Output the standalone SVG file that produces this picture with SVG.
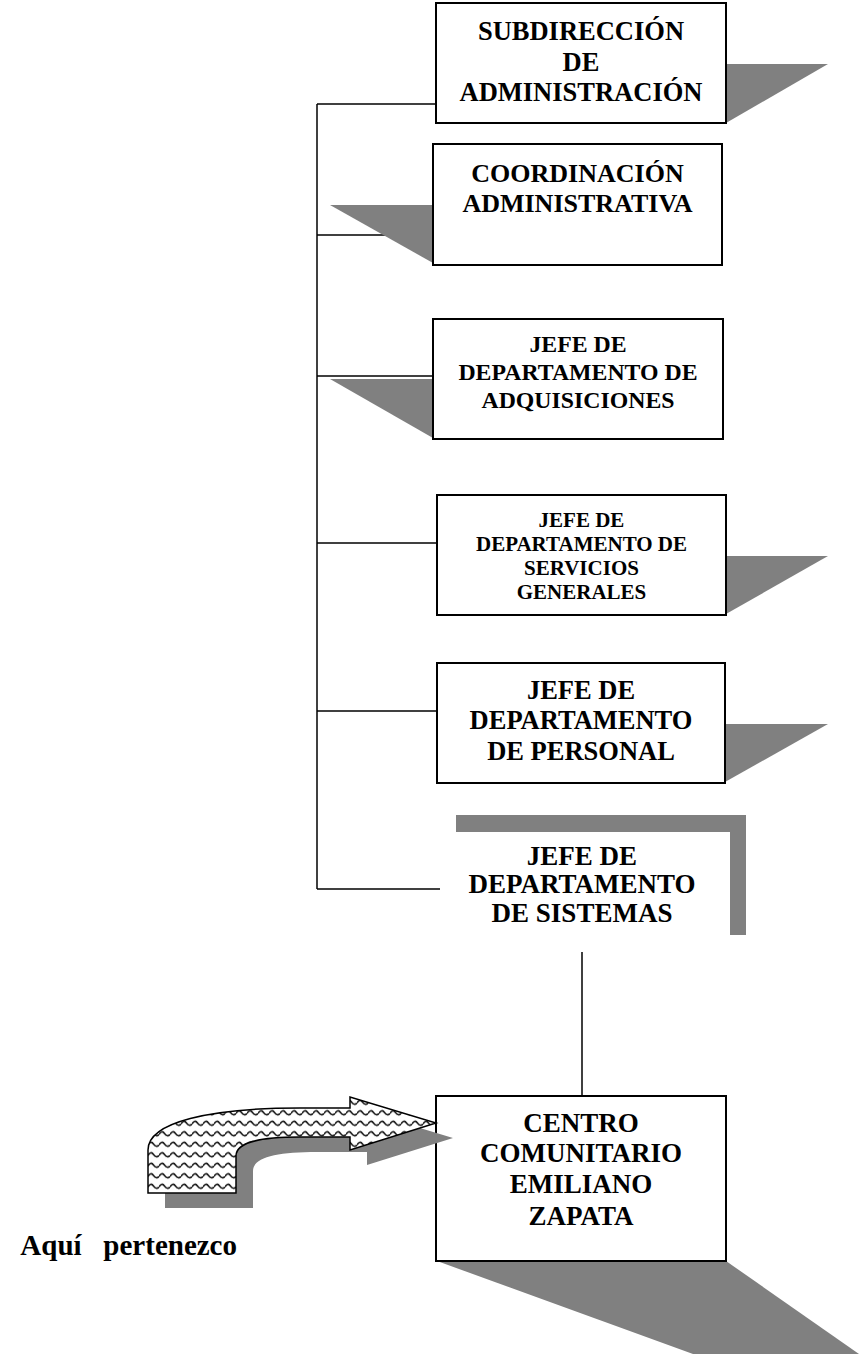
<svg xmlns="http://www.w3.org/2000/svg" width="859" height="1359" viewBox="0 0 859 1359">
<style>
.box{fill:#fff;stroke:#000;stroke-width:2}
.sh{fill:#808080}
.t{font-family:"Liberation Serif","Times New Roman",serif;font-weight:bold;text-anchor:middle;fill:#000}
.ln{stroke:#000;stroke-width:1.5;fill:none}
</style>
<defs>
<pattern id="dots" patternUnits="userSpaceOnUse" x="436" y="1096" width="20" height="20.6">
<rect width="20" height="20.6" fill="#fff"/>
<circle cx="11" cy="10" r="1.3" fill="#444"/>
<circle cx="1" cy="20.3" r="1.3" fill="#444"/>
</pattern>
<pattern id="wave" patternUnits="userSpaceOnUse" x="148" y="1097" width="11" height="10.5">
<rect width="11" height="10.5" fill="#fff"/>
<path d="M0,6 Q2.75,1 5.5,5 Q8.25,9 11,6" fill="none" stroke="#111" stroke-width="1.5"/>
</pattern>
<path id="arrowShape" d="M148,1193 L148,1150 C148,1122 210,1108 300,1108 L350,1108 L350,1097 L436,1123 L350,1150 L350,1137 L300,1137 C260,1137 236,1142 236,1156 L236,1193 Z"/>
</defs>
<rect width="859" height="1359" fill="#fff"/>
<g id="connectors">
<line class="ln" x1="317" y1="104" x2="317" y2="889"/>
<line class="ln" x1="317" y1="104" x2="436" y2="104"/>
<line class="ln" x1="317" y1="235" x2="433" y2="235"/>
<line class="ln" x1="317" y1="376" x2="437" y2="376"/>
<line class="ln" x1="317" y1="543" x2="437" y2="543"/>
<line class="ln" x1="317" y1="711" x2="437" y2="711"/>
<line class="ln" x1="317" y1="889" x2="440" y2="889"/>
<line class="ln" x1="582" y1="952" x2="582" y2="1096"/>
</g>
<g id="subdireccion">
<polygon class="sh" points="726,64 828,64 726,123"/>
<rect class="box" x="436" y="3" width="290" height="120"/>
<text class="t" font-size="26.5"><tspan x="581" y="40">SUBDIRECCIÓN</tspan><tspan x="581" y="70.5">DE</tspan><tspan x="581" y="101">ADMINISTRACIÓN</tspan></text>
</g>
<g id="coordinacion">
<polygon class="sh" points="330,205 433,205 433,263"/>
<rect class="box" x="433" y="144" width="289" height="121"/>
<text class="t" font-size="26"><tspan x="577.5" y="182">COORDINACIÓN</tspan><tspan x="577.5" y="212">ADMINISTRATIVA</tspan></text>
</g>
<g id="adquisiciones">
<polygon class="sh" points="330,379 433,379 433,438"/>
<rect class="box" x="433" y="319" width="290" height="120"/>
<text class="t" font-size="23.8"><tspan x="578" y="352">JEFE DE</tspan><tspan x="578" y="380">DEPARTAMENTO DE</tspan><tspan x="578" y="408">ADQUISICIONES</tspan></text>
</g>
<g id="servicios">
<polygon class="sh" points="726,556 828,556 726,614"/>
<rect class="box" x="437" y="495" width="289" height="120"/>
<text class="t" font-size="21"><tspan x="581.5" y="527">JEFE DE</tspan><tspan x="581.5" y="551">DEPARTAMENTO DE</tspan><tspan x="581.5" y="575">SERVICIOS</tspan><tspan x="581.5" y="599">GENERALES</tspan></text>
</g>
<g id="personal">
<polygon class="sh" points="725,724 828,724 725,782"/>
<rect class="box" x="437" y="663" width="288" height="120"/>
<text class="t" font-size="26.5"><tspan x="581" y="699">JEFE DE</tspan><tspan x="581" y="729">DEPARTAMENTO</tspan><tspan x="581" y="760">DE PERSONAL</tspan></text>
</g>
<g id="sistemas">
<rect class="sh" x="456" y="815" width="290" height="120"/>
<rect x="440" y="832" width="290" height="120" fill="#fff"/>
<text class="t" font-size="27"><tspan x="582" y="865">JEFE DE</tspan><tspan x="582" y="893">DEPARTAMENTO</tspan><tspan x="582" y="922">DE SISTEMAS</tspan></text>
</g>
<g id="centro">
<polygon class="sh" points="437,1261 726,1261 859,1354 693,1354"/>
<rect class="box" x="436" y="1096" width="290" height="165" fill="url(#dots)"/>
<text class="t" font-size="27"><tspan x="581" y="1132">CENTRO</tspan><tspan x="581" y="1162">COMUNITARIO</tspan><tspan x="581" y="1193">EMILIANO</tspan><tspan x="581" y="1225">ZAPATA</tspan></text>
</g>
<g id="arrow">
<use href="#arrowShape" transform="translate(17,15)" class="sh"/>
<use href="#arrowShape" fill="url(#wave)" stroke="#000" stroke-width="1.5"/>
</g>
<g id="label">
<text class="t" font-size="29" x="237" y="1255" style="text-anchor:end" xml:space="preserve">Aquí   pertenezco</text>
</g>
</svg>
